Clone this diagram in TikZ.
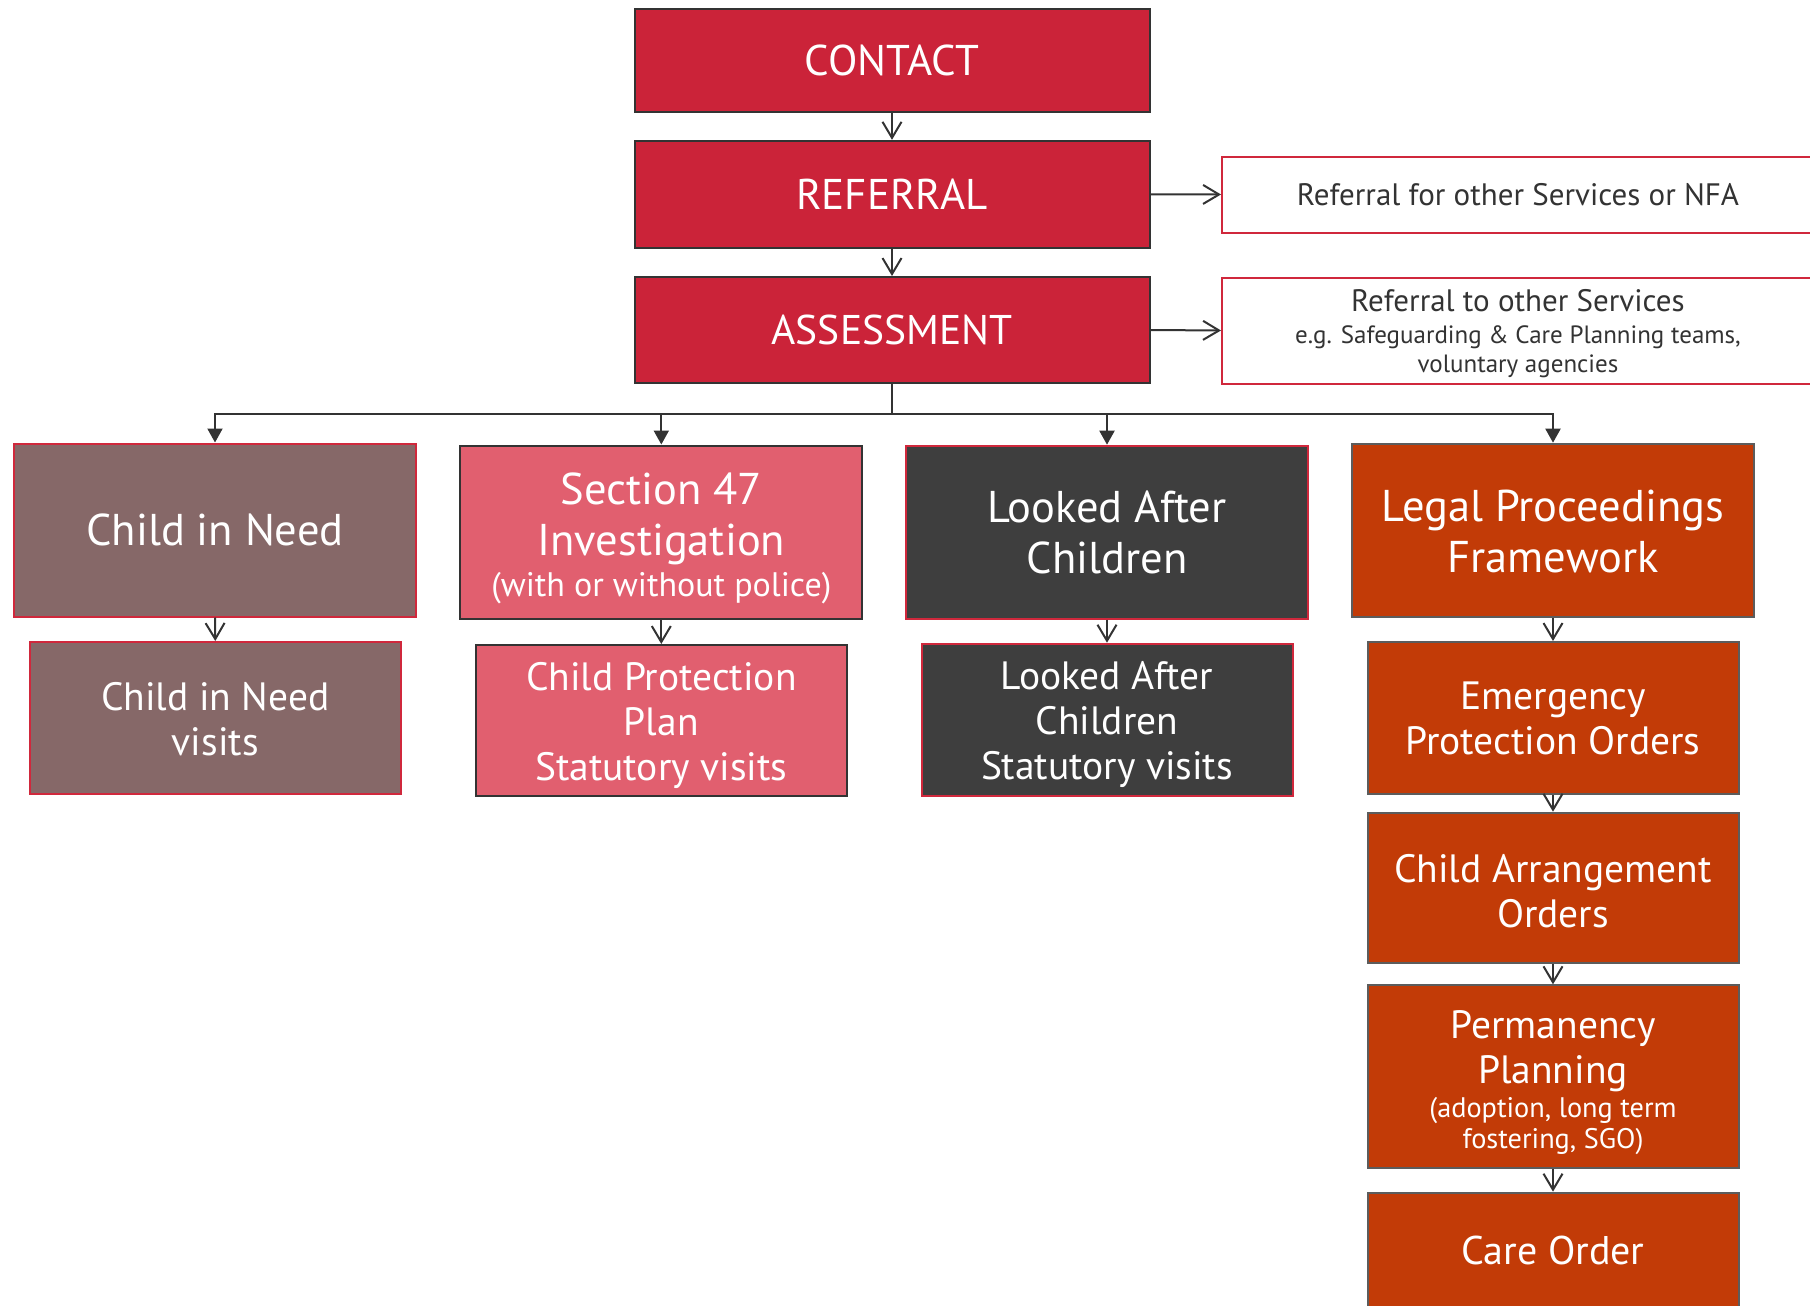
\documentclass[tikz,border=0pt]{standalone}
\usepackage{fontspec}
\setmainfont{PT Sans}
\usetikzlibrary{arrows.meta}
\definecolor{mainred}{HTML}{CB2339}
\definecolor{cinbrown}{HTML}{866868}
\definecolor{secpink}{HTML}{E15F6F}
\definecolor{lacgray}{HTML}{3E3E3E}
\definecolor{legal}{HTML}{C23B07}
\definecolor{edgegray}{HTML}{333333}
\definecolor{bordred}{HTML}{D0283C}
\newcommand\fsA{\fontsize{44.5}{51}\selectfont}
\newcommand\fsT{\fontsize{43}{51}\selectfont}
\newcommand\fsB{\fontsize{39.5}{45}\selectfont}
\newcommand\fsC{\fontsize{34}{40}\selectfont}
\newcommand\fsD{\fontsize{31}{32}\selectfont}
\newcommand\fsE{\fontsize{25}{29}\selectfont}
\newcommand\fsF{\fontsize{28.3}{31}\selectfont}
\begin{document}
\begin{tikzpicture}[x=1pt,y=-1pt,
  box/.style={draw=edgegray, line width=2pt, inner sep=0pt},
  txt/.style={inner sep=0pt, align=center, text=white},
  topbox/.style={box, fill=mainred, minimum width=515pt},
  sidebox/.style={draw=bordred, line width=2pt, fill=white, inner sep=0pt, minimum width=592pt},
  bigbox/.style={box, minimum width=402pt, minimum height=173pt},
  smallbox/.style={box, minimum width=371pt},
  legalbox/.style={smallbox, fill=legal, draw=edgegray!80},
  openarr/.style={draw=edgegray, line width=2pt, -{Straight Barb[length=16pt,width=19pt]}},
  fillarr/.style={draw=edgegray, line width=2pt, -{Triangle[length=14pt,width=15pt]}}
]
\useasboundingbox (0,0) rectangle (1810,1306);

% top column
\node[topbox, minimum height=102pt] (contact) at (892,60.5) {};
\node[txt, font=\fsT] (contactT) at (contact) {CONTACT};
\node[topbox, minimum height=107pt] (referral) at (892,194.3) {};
\node[txt, font=\fsT] (referralT) at (referral) {REFERRAL};
\node[topbox, minimum height=106pt] (assessment) at (892,330) {};
\node[txt, font=\fontsize{41.5}{50}\selectfont] (assessmentT) at (assessment) {ASSESSMENT};

% side boxes
\node[sidebox, minimum height=76pt] (side1) at (1518,194.5) {};
\node[txt, text=edgegray, font=\fsD] (side1T) at (side1) {Referral for other Services or NFA};
\node[sidebox, minimum height=106pt] (side2) at (1518,330.5) {};
\node[txt, text=edgegray, font=\fsE, yshift=-3pt] (side2T) at (side2)
  {{\fsD Referral to other Services}\\[3pt]e.g. Safeguarding \& Care Planning teams,\\voluntary agencies};

% second level
\node[bigbox, fill=cinbrown, draw=bordred] (cin) at (215,530) {};
\node[txt, font=\fsA] (cinT) at (cin) {Child in Need};
\node[bigbox, fill=secpink] (s47) at (661.3,532) {};
\node[txt, font=\fsA, yshift=-6pt] (s47T) at (s47) {Section 47\\Investigation\\[-10pt]{\fsC (with or without police)}};
\node[bigbox, fill=lacgray, draw=bordred] (lac) at (1107,532.2) {};
\node[txt, font=\fsA] (lacT) at (lac) {Looked After\\Children};
\node[bigbox, fill=legal, draw=edgegray!80] (lpf) at (1553,530.2) {};
\node[txt, font=\fsA, yshift=-1pt] (lpfT) at (lpf) {Legal Proceedings\\Framework};

% third level
\node[smallbox, fill=cinbrown, draw=bordred, minimum height=152pt] (cinv) at (215.3,718) {};
\node[txt, font=\fsB, yshift=-1pt] (cinvT) at (cinv) {Child in Need\\visits};
\node[smallbox, fill=secpink, minimum height=151pt] (cpp) at (661.3,720.5) {};
\node[txt, font=\fsB, yshift=-5pt] (cppT) at (cpp) {Child Protection\\Plan\\Statutory visits};
\node[smallbox, fill=lacgray, draw=bordred, minimum height=152pt] (lacv) at (1107,719.7) {};
\node[txt, font=\fsB, yshift=-5pt] (lacvT) at (lacv) {Looked After\\Children\\Statutory visits};

% legal column
\node[legalbox, minimum height=152pt] (epo) at (1553,718) {};
\node[txt, font=\fsB] (epoT) at (epo) {Emergency\\Protection Orders};
\node[legalbox, minimum height=150.6pt] (cao) at (1553,888) {};
\node[txt, font=\fsB, yshift=-3pt] (caoT) at (cao) {Child Arrangement\\Orders};
\node[legalbox, minimum height=182.4pt] (pp) at (1553,1076.5) {};
\node[txt, font=\fsB, yshift=-6pt] (ppT) at (pp)
  {Permanency\\Planning\\[-11pt]{\fsF (adoption, long term}\\[-14pt]{\fsF fostering, SGO)}};
\node[legalbox, minimum height=117.3pt] (care) at (1553,1251.3) {};
\node[txt, font=\fontsize{40}{45}\selectfont, yshift=1pt] (careT) at (care) {Care Order};

% connectors
\draw[openarr] (contact.south) -- (referral.north);
\draw[openarr] (referral.south) -- (assessment.north);
\draw[openarr] (referral.east) -- (side1.west);
\draw[openarr] (assessment.east) -- (side2.west);

\draw[fillarr] (assessment.south) -- ++(0,30.3) -| (cin.north);
\draw[fillarr] (assessment.south) -- ++(0,30.3) -| (s47.north);
\draw[fillarr] (assessment.south) -- ++(0,30.3) -| (lac.north);
\draw[fillarr] (assessment.south) -- ++(0,30.3) -| (lpf.north);

\draw[openarr] (cin.south) -- (cinv.north);
\draw[openarr] (s47.south) -- (cpp.north);
\draw[openarr] (lac.south) -- (lacv.north);
\draw[openarr] (lpf.south) -- (epo.north);
\draw[openarr] (epo.south) -- (cao.north);
\draw[openarr] (cao.south) -- (pp.north);
\draw[openarr] (pp.south) -- (care.north);
\end{tikzpicture}
\end{document}
